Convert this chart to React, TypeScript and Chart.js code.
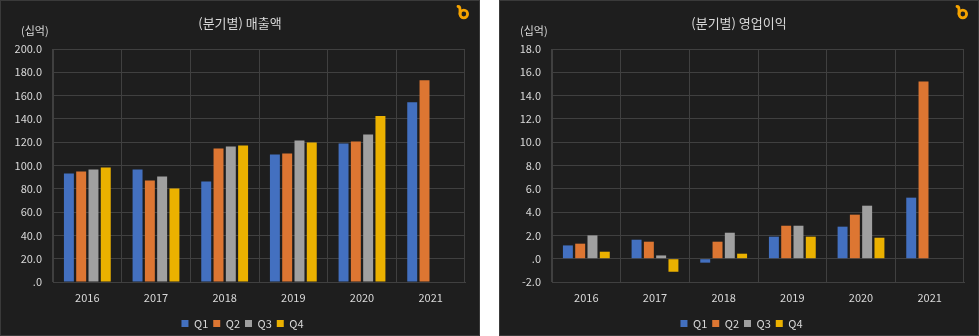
import React, { useEffect, useRef } from 'react';
import { Chart, registerables } from 'chart.js';

Chart.register(...registerables);

// ---- data ----
const years = ['2016', '2017', '2018', '2019', '2020', '2021'];
const quarterLabels = ['Q1', 'Q2', 'Q3', 'Q4'];

const salesQ1 = [93.1, 96.6, 86.2, 109.5, 118.9, 154.2];
const salesQ2 = [94.8, 87.1, 114.6, 110.3, 120.6, 173.1];
const salesQ3 = [96.6, 90.5, 116.3, 121.5, 126.6, null];
const salesQ4 = [98.3, 80.2, 117.2, 119.8, 142.4, null];

const opQ1 = [1.14, 1.63, -0.34, 1.89, 2.75, 5.24];
const opQ2 = [1.29, 1.46, 1.46, 2.83, 3.78, 15.22];
const opQ3 = [2.0, 0.28, 2.23, 2.83, 4.55, null];
const opQ4 = [0.6, -1.12, 0.43, 1.89, 1.8, null];

const salesTitle = '(분기별) 매출액';
const opTitle = '(분기별) 영업이익';
const unitLabel = '(십억)';

// ---- styles ----
const seriesColors = ['#4370c0', '#dd7632', '#a0a0a0', '#ebb100'];
const FONT = '"Noto Sans CJK KR", "Noto Sans", sans-serif';
const TEXT = '#d9d9d9';
const GRID = '#404040';
const BG = '#1e1e1e';

function fmt(v: number): string {
  const s = Number(v).toFixed(1);
  return s.replace(/^(-?)0\./, '$1.');
}

type PanelProps = {
  left: number;
  title: string;
  series: (number | null)[][];
  min: number;
  max: number;
  step: number;
};

function Panel({ left, title, series, min, max, step }: PanelProps) {
  const ref = useRef<HTMLCanvasElement>(null);

  useEffect(() => {
    if (!ref.current) return;
    const decor = {
      id: 'decor',
      afterLayout(chart: any) {
        if (chart.legend) {
          chart.legend.left += 10;
          chart.legend.right += 10;
        }
      },
      afterDraw(chart: any) {
        const ctx = chart.ctx as CanvasRenderingContext2D;
        ctx.save();
        ctx.fillStyle = TEXT;
        ctx.textAlign = 'center';
        ctx.textBaseline = 'middle';
        ctx.font = `13px ${FONT}`;
        ctx.fillText(title, 240, 23);
        ctx.textAlign = 'left';
        ctx.font = `11px ${FONT}`;
        ctx.fillText(unitLabel, 21, 31);
        // logo
        ctx.strokeStyle = '#f5a300';
        ctx.lineWidth = 2.8;
        ctx.lineCap = 'round';
        ctx.beginPath();
        ctx.moveTo(458, 6.5);
        ctx.quadraticCurveTo(460, 6.5, 460, 9.5);
        ctx.lineTo(460, 14);
        ctx.stroke();
        ctx.beginPath();
        ctx.arc(463.8, 14, 3.8, 0, Math.PI * 2);
        ctx.stroke();
        ctx.restore();
      },
    };

    const chart = new Chart(ref.current, {
      type: 'bar',
      data: {
        labels: years,
        datasets: series.map((d, i) => ({
          label: quarterLabels[i],
          data: d as any,
          backgroundColor: seriesColors[i],
          borderWidth: 0,
          categoryPercentage: 0.716,
          barPercentage: 0.81,
        })),
      },
      options: {
        animation: false,
        responsive: false,
        maintainAspectRatio: false,
        layout: { padding: { top: 49, right: 15, bottom: 1, left: 0 } },
        plugins: {
          legend: {
            position: 'bottom',
            labels: {
              boxWidth: 7,
              boxHeight: 7,
              padding: 5,
              color: TEXT,
              font: { size: 11, family: FONT },
            },
          },
          tooltip: { enabled: false },
        },
        scales: {
          x: {
            grid: { color: GRID, drawTicks: false, offset: true },
            border: { color: GRID },
            ticks: { color: TEXT, font: { size: 11, family: FONT }, padding: 9 },
            afterFit(s: any) {
              s.height = 31;
            },
          },
          y: {
            min,
            max,
            ticks: {
              stepSize: step,
              callback: (v: any) => fmt(Number(v)),
              color: TEXT,
              font: { size: 11, family: FONT },
              padding: 11,
            },
            grid: { color: GRID, drawTicks: false },
            border: { color: GRID },
            afterFit(s: any) {
              s.width = 53;
            },
          },
        },
      } as any,
      plugins: [decor],
    });
    return () => chart.destroy();
  }, []);

  return (
    <div
      style={{
        position: 'absolute',
        left,
        top: 0,
        width: 480,
        height: 336,
        background: BG,
        border: '1px solid #3a3a3a',
        boxSizing: 'border-box',
        overflow: 'hidden',
      }}
    >
      <canvas
        ref={ref}
        width={480}
        height={340}
        style={{ position: 'absolute', left: -1, top: -1, width: 480, height: 340 }}
      />
    </div>
  );
}

export default function App() {
  return (
    <div style={{ position: 'absolute', left: 0, top: 0, width: 979, height: 336, background: '#ffffff' }}>
      <Panel left={0} title={salesTitle} series={[salesQ1, salesQ2, salesQ3, salesQ4]} min={0} max={200} step={20} />
      <Panel left={499} title={opTitle} series={[opQ1, opQ2, opQ3, opQ4]} min={-2} max={18} step={2} />
    </div>
  );
}
